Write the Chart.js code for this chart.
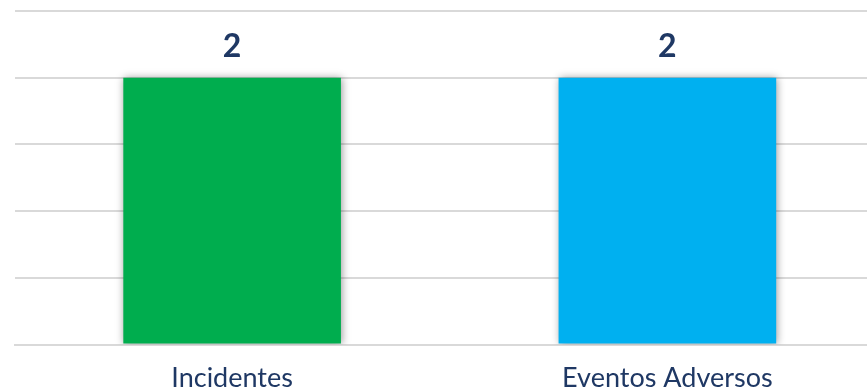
<!DOCTYPE html>
<html><head><meta charset="utf-8">
<script src="https://cdn.jsdelivr.net/npm/chart.js@4"></script>
<style>html,body{margin:0;padding:0;overflow:hidden;background:#fff;width:867px;height:391px}</style>
</head><body>
<canvas id="c" width="885" height="407"></canvas>
<script>
const categories = ["Incidentes", "Eventos Adversos"];
const values = [2, 2];
const barColors = ["#00AD4E", "#00B0F0"];
const yTicks = { min: 0, max: 2.5, step: 0.5 };

const shadowPlugin = {
  id: 'shadow',
  beforeDatasetsDraw(chart) {
    const ctx = chart.ctx;
    ctx.save();
    ctx.shadowColor = 'rgba(0,0,0,0.4)';
    ctx.shadowBlur = 8;
    ctx.shadowOffsetX = 1;
    ctx.shadowOffsetY = 0;
  },
  afterDatasetsDraw(chart) { chart.ctx.restore(); }
};
const labelPlugin = {
  id: 'vals',
  afterDatasetsDraw(chart) {
    const ctx = chart.ctx;
    const meta = chart.getDatasetMeta(0);
    ctx.save();
    ctx.font = 'bold 32px Lato';
    ctx.fillStyle = '#1F3864';
    ctx.textAlign = 'center';
    ctx.textBaseline = 'alphabetic';
    meta.data.forEach((bar, i) => {
      ctx.fillText(String(values[i]), bar.x, bar.y - 21);
    });
    ctx.restore();
  }
};

new Chart(document.getElementById('c'), {
  type: 'bar',
  data: { labels: categories, datasets: [{ data: values, backgroundColor: barColors, barPercentage: 0.5, categoryPercentage: 1.0 }] },
  options: {
    responsive: false,
    animation: false,
    layout: { padding: { left: 14.5, right: 0, top: 11, bottom: 4 } },
    plugins: { legend: { display: false }, tooltip: { enabled: false } },
    scales: {
      x: {
        grid: { display: false },
        border: { display: true, color: '#D9D9D9', width: 2 },
        ticks: { color: '#1F3864', font: { family: 'Lato', size: 27 }, padding: 9 }
      },
      y: {
        min: yTicks.min, max: yTicks.max,
        ticks: { display: false, stepSize: yTicks.step },
        grid: { color: '#D9D9D9', lineWidth: 2, drawTicks: false },
        border: { display: false }
      }
    }
  },
  plugins: [shadowPlugin, labelPlugin]
});
</script>
</body></html>
